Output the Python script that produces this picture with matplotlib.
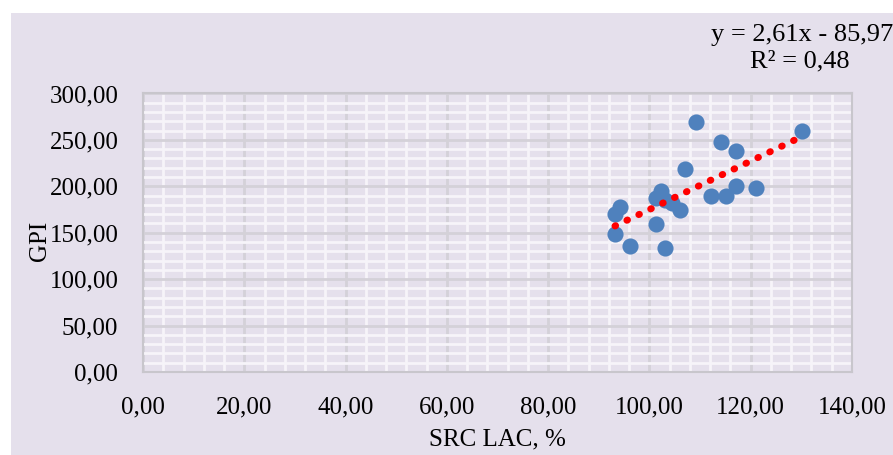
import matplotlib.pyplot as plt
from matplotlib.patches import Rectangle
from matplotlib.ticker import MultipleLocator, FuncFormatter

plt.rcParams['font.family'] = ['Liberation Serif', 'DejaVu Serif']

src_lac = [109.1, 130.1, 114.1, 117.0, 107.1, 117.0, 121.1, 112.1, 115.2, 102.2,
           101.2, 103.0, 104.5, 106.0, 94.2, 93.2, 101.2, 93.2, 96.1, 103.1]
gpi = [269.4, 260.0, 247.5, 238.1, 218.8, 200.8, 198.6, 189.3, 189.7, 195.4,
       187.2, 185.0, 182.0, 174.2, 178.1, 169.9, 159.5, 148.4, 135.8, 133.3]
slope = 2.61
intercept = -85.97
r2 = 0.48

bg = '#E5E0EC'
fig = plt.figure(figsize=(8.93, 4.55), dpi=100, facecolor='white')
fig.patches.append(Rectangle((11 / 893, 0), 1, 1 - 13 / 455, transform=fig.transFigure,
                             facecolor=bg, edgecolor='none', zorder=-5))
ax = fig.add_axes([143 / 893, 83 / 455, 709 / 893, 278.5 / 455])
ax.set_facecolor(bg)

ax.set_xlim(0, 140)
ax.set_ylim(0, 300)
ax.xaxis.set_major_locator(MultipleLocator(20))
ax.xaxis.set_minor_locator(MultipleLocator(4))
ax.yaxis.set_major_locator(MultipleLocator(50))
ax.yaxis.set_minor_locator(MultipleLocator(10))
fmt = FuncFormatter(lambda v, p: f'{v:.2f}'.replace('.', ','))
ax.xaxis.set_major_formatter(fmt)
ax.yaxis.set_major_formatter(fmt)

ax.grid(which='minor', color='#F6F4F9', linewidth=2, zorder=0)
ax.grid(which='major', color='#D4D1D8', linewidth=2, zorder=0)
ax.set_axisbelow(True)
ax.tick_params(which='both', length=0)
ax.tick_params(axis='x', pad=17.5, labelsize=18)
ax.tick_params(axis='y', pad=17.8, labelsize=18)
for s in ax.spines.values():
    s.set_color('#C8C6CC')
    s.set_linewidth(1.5)

ax.scatter(src_lac, gpi, s=135, color='#4F81BD', zorder=3, linewidths=0)

x0, x1 = min(src_lac), max(src_lac)
ax.plot([x0, x1], [slope * x0 + intercept, slope * x1 + intercept], color='#FF0000',
        linewidth=5, linestyle=(0, (0.1, 1.8)), dash_capstyle='round', zorder=4)

ax.set_xlabel('SRC LAC, %', fontsize=18, labelpad=7)
ax.set_ylabel('GPI', fontsize=18)
ax.yaxis.set_label_coords(-0.13, 0.47)

fig.text(802 / 893, 1 - 35 / 455, f'y = {slope:.2f}x - {abs(intercept):.2f}'.replace('.', ','),
         fontsize=19, ha='center', va='center')
fig.text(800 / 893, 1 - 61 / 455, f'R² = {r2:.2f}'.replace('.', ','),
         fontsize=19, ha='center', va='center')

fig.savefig('out.png', dpi=100, facecolor='white')
